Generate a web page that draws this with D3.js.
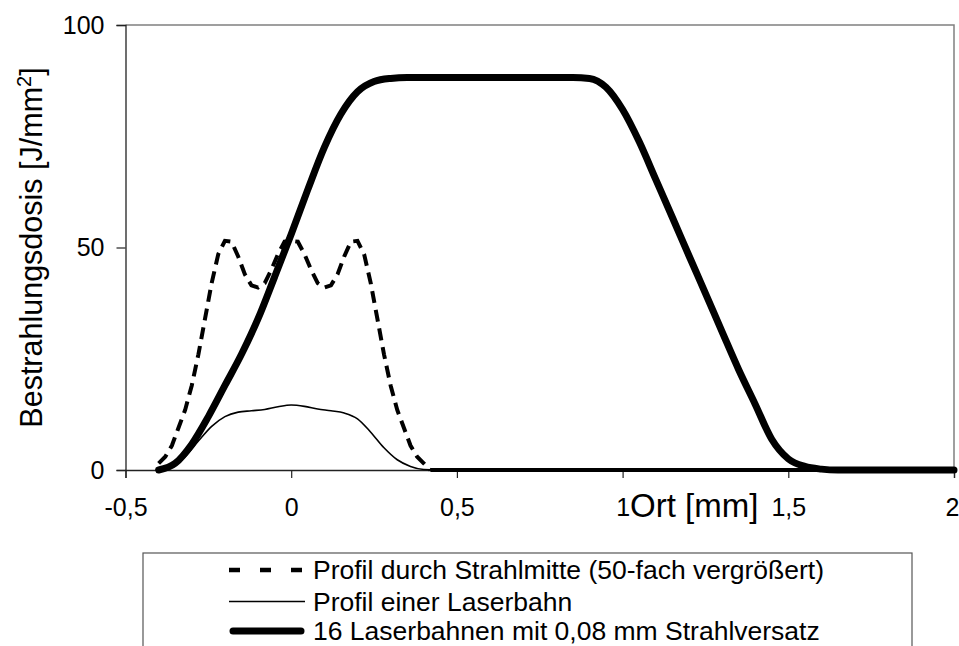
<!DOCTYPE html>
<html>
<head>
<meta charset="utf-8">
<script src="https://cdn.jsdelivr.net/npm/d3@7"></script>
<style>
  html, body { margin: 0; padding: 0; background: #fff; }
  svg { display: block; font-family: "Liberation Sans", Arial, sans-serif; }
</style>
</head>
<body>
<svg id="chart" width="959" height="646"></svg>
<script>
// Position along the scan [mm]
const xCenter = [-0.40, -0.38, -0.36, -0.34, -0.32, -0.30, -0.28, -0.26, -0.24, -0.22, -0.20,
                 -0.18, -0.16, -0.14, -0.12, -0.10, -0.08, -0.06, -0.04, -0.02, 0.00,
                 0.02, 0.04, 0.06, 0.08, 0.10, 0.12, 0.14, 0.16, 0.18, 0.20,
                 0.22, 0.24, 0.26, 0.28, 0.30, 0.32, 0.34, 0.36, 0.38, 0.40, 0.42, 2.00];
// Profile through beam centre (scaled x50)
const doseCenter = [1.5, 3, 5.5, 9.5, 13.5, 19, 26, 34, 42, 48.5, 51.5,
                    51.3, 48, 44, 41.5, 41, 42, 45, 48.5, 51.3, 51.5,
                    51.3, 48.5, 45, 42, 41, 41.5, 44, 48, 51.3, 51.5,
                    48.5, 42, 34, 26, 19, 13.5, 9.5, 5.5, 3, 1.5, 0, 0];

const xSingle = [-0.40, -0.36, -0.32, -0.28, -0.24, -0.20, -0.16, -0.12, -0.08, -0.04, 0.00,
                 0.04, 0.08, 0.12, 0.16, 0.20, 0.24, 0.28, 0.32, 0.36, 0.40, 0.44, 2.00];
// Profile of a single laser track
const doseSingle = [0, 0.8, 3, 6.5, 9.8, 12, 13, 13.3, 13.6, 14.2, 14.6,
                    14.3, 13.7, 13.3, 12.8, 11.5, 8.5, 5, 2.3, 0.8, 0.1, 0, 0];

const xSum = [-0.40, -0.35, -0.30, -0.25, -0.20, -0.15, -0.10, -0.05, 0.00, 0.05, 0.10, 0.15,
              0.20, 0.25, 0.30, 0.35, 0.50, 0.70, 0.85, 0.90, 0.95, 1.00, 1.05, 1.10, 1.15,
              1.20, 1.25, 1.30, 1.35, 1.40, 1.45, 1.50, 1.55, 1.60, 1.65, 2.00];
// 16 tracks with 0.08 mm offset
const doseSum = [0, 1.5, 5.8, 12, 19, 26, 34, 43.4, 53, 63, 72.5, 80,
                 85, 87.3, 88, 88.2, 88.2, 88.2, 88.2, 88, 86, 81, 73.8, 65.3, 56.8,
                 48.2, 39.7, 31.1, 22.6, 14.8, 6.9, 2.5, 0.8, 0.2, 0, 0];

const xTicks = [-0.5, 0, 0.5, 1, 1.5, 2];
const yTicks = [0, 50, 100];
const xTickLabels = ["-0,5", "0", "0,5", "1", "1,5", "2"];

const legendLabels = [
  "Profil durch Strahlmitte (50-fach vergrößert)",
  "Profil einer Laserbahn",
  "16 Laserbahnen mit 0,08 mm Strahlversatz"
];

const svg = d3.select("#chart");
const x = d3.scaleLinear().domain([-0.5, 2]).range([125.5, 954]);
const y = d3.scaleLinear().domain([0, 100]).range([470, 25]);

// plot frame: grey top/right edge
svg.append("path")
  .attr("d", `M${x(-0.5)},${y(100)}H${x(2)}V${y(0)}`)
  .attr("fill", "none").attr("stroke", "#808080").attr("stroke-width", 1.5);

// axes
const yAxis = svg.append("g").attr("transform", `translate(${x(-0.5)},0)`)
  .call(d3.axisLeft(y).tickValues(yTicks).tickSize(9).tickPadding(12).tickFormat(d3.format("d")));
const xAxis = svg.append("g").attr("transform", `translate(0,${y(0)})`)
  .call(d3.axisBottom(x).tickValues(xTicks).tickSize(8).tickPadding(20)
        .tickFormat((d, i) => xTickLabels[i]));
[yAxis, xAxis].forEach(g => {
  g.select(".domain").attr("stroke", "#222").attr("stroke-width", 1.3);
  g.selectAll(".tick line").attr("stroke", "#222").attr("stroke-width", 1.2);
  g.selectAll(".tick text").attr("fill", "#000").style("font-size", "25px")
    .style("font-family", "'Liberation Sans', Arial, sans-serif");
});
// keep the last x label inside the canvas
xAxis.selectAll(".tick text").filter(d => d === 2).attr("dx", -2);

// axis titles
const yTitle = svg.append("text")
  .attr("transform", `translate(42,${(y(0) + y(100)) / 2}) rotate(-90)`)
  .attr("text-anchor", "middle")
  .style("font-size", "30.5px");
yTitle.append("tspan").text("Bestrahlungsdosis [J/mm");
yTitle.append("tspan").attr("dy", -11).style("font-size", "20px").text("2");
yTitle.append("tspan").attr("dy", 11).text("]");

svg.append("text")
  .attr("x", 630).attr("y", 517)
  .style("font-size", "33px")
  .text("Ort [mm]");

// series
const smooth = d3.line().x(d => x(d[0])).y(d => y(d[1])).curve(d3.curveMonotoneX);
const straight = d3.line().x(d => x(d[0])).y(d => y(d[1]));

svg.append("path")
  .datum(d3.zip(xSingle, doseSingle))
  .attr("d", smooth).attr("fill", "none").attr("stroke", "#000").attr("stroke-width", 1.6);

// centre profile: dashed while above zero, solid along the baseline
const centerPts = d3.zip(xCenter, doseCenter);
const firstZero = doseCenter.indexOf(0);
svg.append("path")
  .datum(centerPts.slice(0, firstZero + 1))
  .attr("d", straight).attr("fill", "none").attr("stroke", "#000")
  .attr("stroke-width", 4).attr("stroke-dasharray", "12,7");
svg.append("path")
  .datum(centerPts.slice(firstZero))
  .attr("d", straight).attr("fill", "none").attr("stroke", "#000")
  .attr("stroke-width", 4);

svg.append("path")
  .datum(d3.zip(xSum, doseSum))
  .attr("d", smooth).attr("fill", "none").attr("stroke", "#000")
  .attr("stroke-width", 7).attr("stroke-linejoin", "round").attr("stroke-linecap", "round");

// legend
const lg = svg.append("g");
lg.append("rect").attr("x", 143).attr("y", 553).attr("width", 769).attr("height", 120)
  .attr("fill", "#fff").attr("stroke", "#555").attr("stroke-width", 1.2);
const rowY = [570, 601.5, 631];
const styles = [
  { w: 4.5, dash: "11,20", cap: "butt" },
  { w: 1.6, dash: null, cap: "butt" },
  { w: 7, dash: null, cap: "round" }
];
legendLabels.forEach((label, i) => {
  lg.append("line")
    .attr("x1", i === 2 ? 233 : 229).attr("x2", i === 0 ? 302 : (i === 2 ? 301 : 305))
    .attr("y1", rowY[i]).attr("y2", rowY[i])
    .attr("stroke", "#000").attr("stroke-width", styles[i].w)
    .attr("stroke-dasharray", styles[i].dash).attr("stroke-linecap", styles[i].cap);
  lg.append("text")
    .attr("x", 313).attr("y", rowY[i]).attr("dy", "0.35em")
    .style("font-size", "26.5px")
    .text(label);
});
</script>
</body>
</html>
